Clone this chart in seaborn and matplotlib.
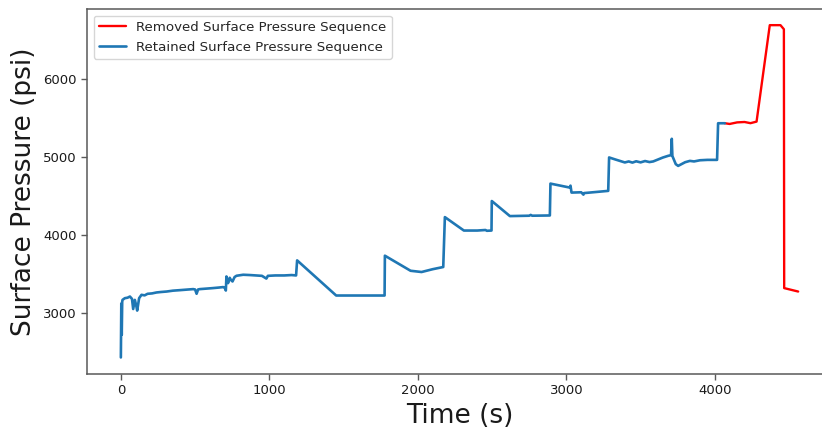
import matplotlib
matplotlib.use("Agg")
import matplotlib.pyplot as plt
import seaborn as sns
import pandas as pd

# Retained surface pressure record (time in s, pressure in psi)
retained_time = [
    0, 3, 6, 9, 11, 27, 45, 61, 75, 83, 94, 103, 110, 123, 139, 160, 180, 210,
    240, 270, 308, 350, 400, 440, 487, 500, 510, 520, 532, 580, 620, 660, 689,
    700, 707, 711, 717, 722, 733, 742, 752, 766, 779, 824, 870, 910, 950, 980,
    990, 1040, 1100, 1150, 1180, 1187, 1450, 1776, 1778, 1951, 2025, 2100,
    2171, 2182, 2310, 2400, 2455, 2465, 2496, 2498, 2620, 2750, 2760, 2770,
    2889, 2893, 3024, 3028, 3035, 3100, 3115, 3120, 3150, 3282, 3288, 3330,
    3394, 3420, 3445, 3470, 3500, 3530, 3560, 3585, 3650, 3686, 3705, 3710,
    3714, 3737, 3753, 3800, 3832, 3860, 3900, 3950, 4015, 4022, 4067,
]
retained_pressure = [
    2430, 3120, 2720, 3140, 3167, 3189, 3195, 3210, 3180, 3050, 3167, 3100,
    3030, 3189, 3232, 3225, 3245, 3250, 3262, 3268, 3274, 3285, 3292, 3298,
    3305, 3300, 3245, 3300, 3305, 3312, 3318, 3325, 3331, 3320, 3287, 3467,
    3420, 3382, 3450, 3420, 3403, 3460, 3476, 3489, 3485, 3480, 3475, 3440,
    3475, 3480, 3480, 3485, 3480, 3673, 3223, 3223, 3733, 3540, 3524, 3560,
    3588, 4227, 4055, 4055, 4062, 4052, 4055, 4433, 4240, 4245, 4255, 4245,
    4248, 4656, 4605, 4630, 4541, 4545, 4515, 4535, 4540, 4563, 4991, 4965,
    4927, 4940, 4925, 4942, 4928, 4945, 4932, 4940, 4990, 5012, 5020, 5230,
    5010, 4905, 4883, 4930, 4947, 4940, 4955, 4960, 4960, 5429, 5429,
]

# Removed tail of the record
removed_time = [4067, 4100, 4150, 4200, 4240, 4281, 4370, 4442, 4465, 4467, 4561]
removed_pressure = [5429, 5420, 5440, 5445, 5430, 5450, 6685, 6685, 6633, 3318, 3274]

x_ticks = [0, 1000, 2000, 3000, 4000]
y_ticks = [3000, 4000, 5000, 6000]

sns.set_theme(style="ticks", rc={
    "axes.edgecolor": "0.35",
    "axes.linewidth": 1.1,
    "xtick.color": "0.35",
    "ytick.color": "0.35",
    "xtick.labelcolor": "0.1",
    "ytick.labelcolor": "0.1",
})
plt.rcParams["font.family"] = ["DejaVu Sans"]

removed = pd.DataFrame({"t": removed_time, "p": removed_pressure})
retained = pd.DataFrame({"t": retained_time, "p": retained_pressure})

fig = plt.figure(figsize=(8.22, 4.29), dpi=100)
# the plotting area runs past the right edge of the canvas
ax = fig.add_axes([87 / 822, 55 / 429, 745 / 822, 365 / 429])
ax.spines["right"].set_visible(False)

sns.lineplot(data=removed, x="t", y="p", ax=ax, color="#ff0000", lw=1.7,
             estimator=None, sort=False, label="Removed Surface Pressure Sequence")
sns.lineplot(data=retained, x="t", y="p", ax=ax, color="#1f77b4", lw=1.9,
             estimator=None, sort=False, label="Retained Surface Pressure Sequence")

ax.set_xticks(x_ticks)
ax.set_yticks(y_ticks)
ax.set_xlim(-228, 4789)
ax.set_ylim(2218, 6892)
ax.tick_params(labelsize=9.5, length=4, width=1)
ax.set_xlabel("Time (s)", fontsize=19, color="0.1")
ax.set_ylabel("Surface Pressure (psi)", fontsize=19, color="0.1")

leg = ax.legend(loc="upper left", fontsize=9.6, frameon=True, framealpha=0.8,
                edgecolor="0.8", fancybox=True)

fig.savefig("out.png", dpi=100, facecolor="white")
